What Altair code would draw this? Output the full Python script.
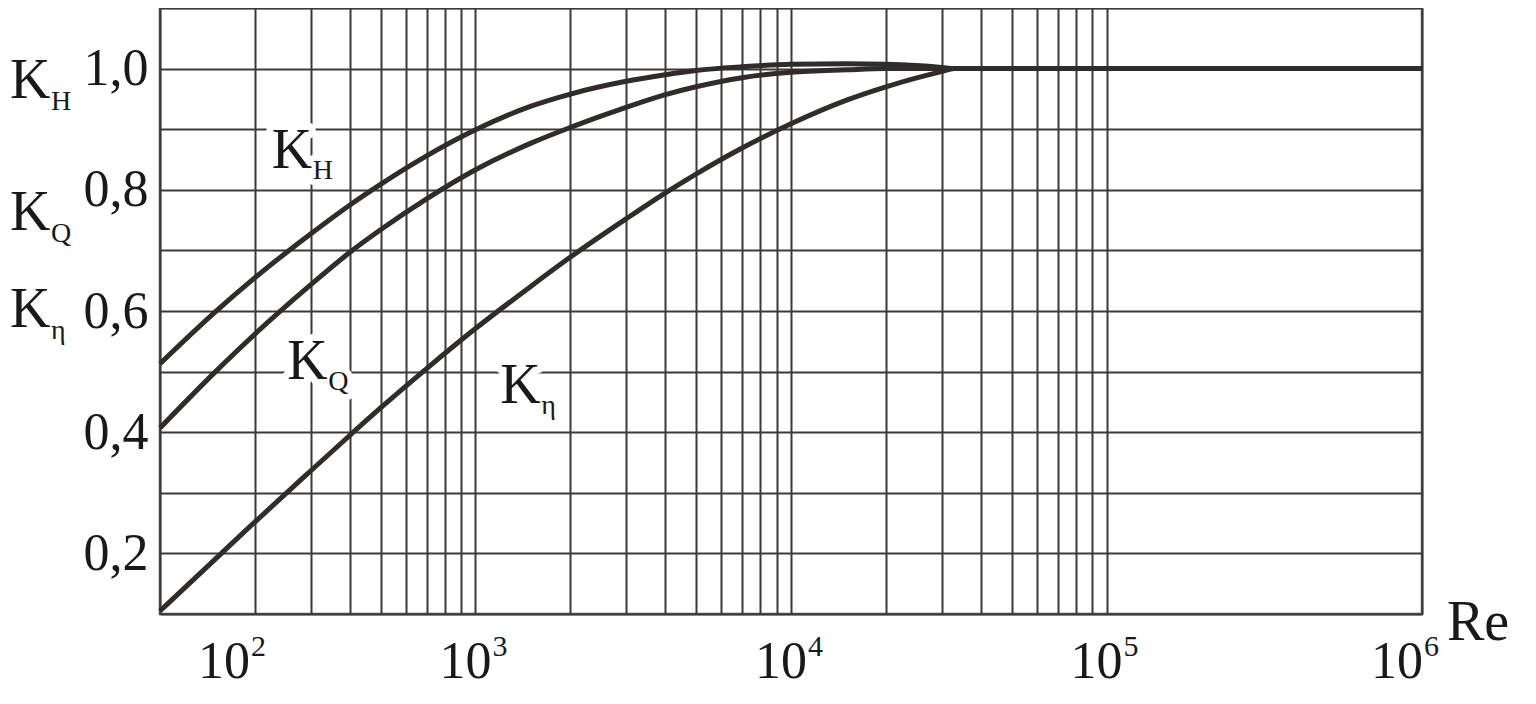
import altair as alt
import pandas as pd

# ---------------- data ----------------
# K_H curve (Re, value)
kh_re = [100, 150, 200, 300, 400, 500, 700, 1000, 1500, 2000, 3000, 4000, 5000, 7000, 10000, 15000, 20000, 30000, 33000, 1000000]
kh_val = [0.513, 0.599, 0.655, 0.727, 0.775, 0.809, 0.856, 0.899, 0.938, 0.958, 0.979, 0.990, 0.997, 1.003, 1.007, 1.008, 1.007, 1.002, 1.0, 1.0]

# K_Q curve
kq_re = [100, 150, 200, 300, 400, 500, 700, 1000, 1500, 2000, 3000, 4000, 5000, 7000, 10000, 15000, 20000, 33000, 1000000]
kq_val = [0.407, 0.500, 0.562, 0.643, 0.697, 0.734, 0.785, 0.833, 0.877, 0.903, 0.936, 0.957, 0.970, 0.985, 0.994, 0.998, 1.0, 1.0, 1.0]

# K_eta curve
ke_re = [100, 150, 200, 300, 400, 500, 700, 1000, 1500, 2000, 3000, 4000, 5000, 7000, 10000, 15000, 20000, 30000, 33000, 1000000]
ke_val = [0.105, 0.191, 0.252, 0.336, 0.395, 0.440, 0.505, 0.571, 0.641, 0.689, 0.752, 0.795, 0.826, 0.869, 0.909, 0.948, 0.970, 0.995, 1.0, 1.0]

# grid / tick values
x_grid = [m * 10 ** e for e in (2, 3, 4) for m in range(1, 10)] + [100000, 1000000]
y_grid = [round(0.1 * i, 1) for i in range(1, 12)]

# x tick labels (10^n)
dec_re = [100, 1000, 10000, 100000, 1000000]
dec_base = ["10", "10", "10", "10", "10"]
dec_exp = ["2", "3", "4", "5", "6"]

# curve annotations inside the plot
lab_re = [226, 253, 1197]
lab_k = [0.836, 0.488, 0.449]
lab_main = ["K", "K", "K"]
lab_sub = ["H", "Q", "η"]

# y-axis title lines
ttl_k = [0.951, 0.733, 0.574]
ttl_main = ["K", "K", "K"]
ttl_sub = ["H", "Q", "η"]

# ---------------- chart ----------------
W, H = 1262, 606
FONT = "Liberation Serif"
INK = "#1a1818"
CURVE = "#302c2a"

curves = pd.DataFrame({
    "Re": kh_re + kq_re + ke_re,
    "K": kh_val + kq_val + ke_val,
    "series": ["KH"] * len(kh_re) + ["KQ"] * len(kq_re) + ["Keta"] * len(ke_re),
})
labels = pd.DataFrame({"Re": lab_re, "K": lab_k, "main": lab_main, "sub": lab_sub})
titles = pd.DataFrame({"K": ttl_k, "main": ttl_main, "sub": ttl_sub})
xlabs = pd.DataFrame({"Re": dec_re, "base": dec_base, "exp": dec_exp})

xscale = alt.Scale(type="log", domain=[100, 1000000], nice=False)
yscale = alt.Scale(domain=[0.1, 1.1], nice=False, zero=False)
xaxis = alt.Axis(values=x_grid, grid=True, labels=False, ticks=False, domain=False, title=None)
yaxis = alt.Axis(
    values=y_grid, grid=True, ticks=False, domain=False, title=None,
    labelExpr="round(datum.value*10) % 2 == 0 ? replace(format(datum.value, '.1f'), '.', ',') : ''",
    labelFont=FONT, labelFontSize=52, labelColor=INK, labelPadding=12, labelOverlap=False,
)
X = alt.X("Re:Q", scale=xscale, axis=xaxis)
Y = alt.Y("K:Q", scale=yscale, axis=yaxis)

lines = alt.Chart(curves).mark_line(
    strokeWidth=5, color=CURVE, interpolate="monotone"
).encode(x=X, y=Y, detail="series:N")

# annotation labels with white halo (breaks the grid as in the original)
halo_main = alt.Chart(labels).mark_text(
    font=FONT, fontSize=56, align="left", baseline="alphabetic",
    fill="white", stroke="white", strokeWidth=14, strokeJoin="round"
).encode(x=X, y=Y, text="main:N")
halo_sub = alt.Chart(labels).mark_text(
    font=FONT, fontSize=28, align="left", baseline="alphabetic", dx=41, dy=11,
    fill="white", stroke="white", strokeWidth=12, strokeJoin="round"
).encode(x=X, y=Y, text="sub:N")
txt_main = alt.Chart(labels).mark_text(
    font=FONT, fontSize=56, align="left", baseline="alphabetic", color=INK
).encode(x=X, y=Y, text="main:N")
txt_sub = alt.Chart(labels).mark_text(
    font=FONT, fontSize=28, align="left", baseline="alphabetic", dx=41, dy=11, color=INK
).encode(x=X, y=Y, text="sub:N")

# y-axis title (K_H / K_Q / K_eta)
t_main = alt.Chart(titles).mark_text(
    font=FONT, fontSize=56, align="left", baseline="alphabetic", color=INK
).encode(x=alt.value(-150), y=Y, text="main:N")
t_sub = alt.Chart(titles).mark_text(
    font=FONT, fontSize=28, align="left", baseline="alphabetic", dx=41, dy=12, color=INK
).encode(x=alt.value(-150), y=Y, text="sub:N")


# x tick labels 10^n
def xlab_layer(filt, dx):
    base = alt.Chart(xlabs).transform_filter(filt)
    b = base.mark_text(
        font=FONT, fontSize=52, align="center", baseline="alphabetic", dx=dx, color=INK
    ).encode(x=X, y=alt.value(H + 64), text="base:N")
    e = base.mark_text(
        font=FONT, fontSize=30, align="left", baseline="alphabetic", dx=dx + 27, dy=-22, color=INK
    ).encode(x=X, y=alt.value(H + 64), text="exp:N")
    return [b, e]


xl = (
    xlab_layer("datum.Re == 100", 64)
    + xlab_layer("datum.Re > 100 && datum.Re < 1000000", -10)
    + xlab_layer("datum.Re == 1000000", -25)
)

re_title = alt.Chart(pd.DataFrame({"t": ["Re"]})).mark_text(
    font=FONT, fontSize=56, align="left", baseline="alphabetic", color=INK
).encode(x=alt.value(W + 25), y=alt.value(H + 26), text="t:N")

chart = alt.layer(
    lines, halo_main, halo_sub, txt_main, txt_sub, t_main, t_sub, *xl, re_title
).properties(
    width=W, height=H,
    padding={"left": 152, "top": 0, "right": 98, "bottom": 78},
    autosize=alt.AutoSizeParams(type="none"),
    background="white",
).configure_view(
    stroke="#555555", strokeWidth=2.5
).configure_axis(
    gridColor="#3a3a3a", gridWidth=2, gridOpacity=1
)

chart.save("out.html", embed_options={"renderer": "svg", "actions": False})
